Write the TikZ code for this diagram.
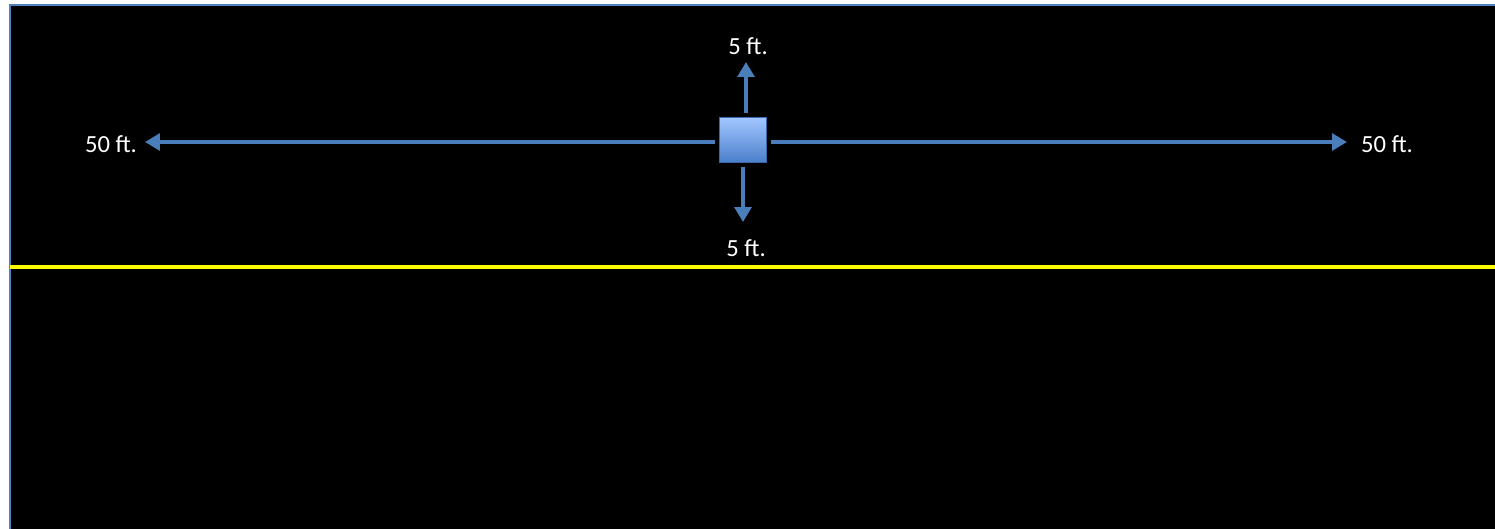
\documentclass[tikz,border=0pt]{standalone}
\usepackage{fontspec}
\setmainfont{Carlito}
\usetikzlibrary{arrows.meta}

\definecolor{frameblue}{HTML}{4F81BD}
\definecolor{arrowblue}{HTML}{4A7EBB}
\definecolor{boxtop}{HTML}{A3C6FF}
\definecolor{boxbottom}{HTML}{4A7FCB}
\definecolor{boxedge}{HTML}{3B68A8}
\definecolor{roadyellow}{HTML}{FFFF00}

\begin{document}
\begin{tikzpicture}[>={Triangle[length=8.5pt,width=9.5pt]},
    dist/.style={arrowblue, line width=2.6pt, ->, shorten <=0.08cm},
    label/.style={text=white, font=\fontsize{14}{16}\selectfont, inner sep=0pt}]
    \useasboundingbox (0,0) rectangle (29.9,-10.56);

    % Background
    \fill[white] (0,0) rectangle (29.9,-10.56);
    \draw[frameblue, fill=black, line width=1.1pt] (0.2,-0.1) rectangle (30.5,-11);

    % Yellow line
    \draw[roadyellow, line width=2.6pt] (0.2,-5.34) -- (30.5,-5.34);

    % Box
    \node[draw=boxedge, line width=0.6pt, top color=boxtop, bottom color=boxbottom,
          minimum width=0.94cm, minimum height=0.9cm, inner sep=0pt] (Box) at (14.86,-2.8) {};

    % Arrow tips
    \coordinate (Tip-left) at (2.9,-2.84);
    \coordinate (Tip-right) at (26.94,-2.84);
    \coordinate (Tip-up) at (14.92,-1.24);
    \coordinate (Tip-down) at (14.86,-4.44);

    % Distances
    \draw[dist] (Box.west |- Tip-left) -- (Tip-left);
    \draw[dist] (Box.east |- Tip-right) -- (Tip-right);
    \draw[dist] (Tip-up |- Box.north) -- (Tip-up);
    \draw[dist] (Tip-down |- Box.south) -- (Tip-down);

    % Labels
    \node[label] (Label-left) at (2.22,-2.88) {50 ft.};
    \node[label] (Label-right) at (27.74,-2.88) {50 ft.};
    \node[label] (Label-up) at (14.96,-0.92) {5 ft.};
    \node[label] (Label-down) at (14.92,-4.96) {5 ft.};
\end{tikzpicture}
\end{document}
